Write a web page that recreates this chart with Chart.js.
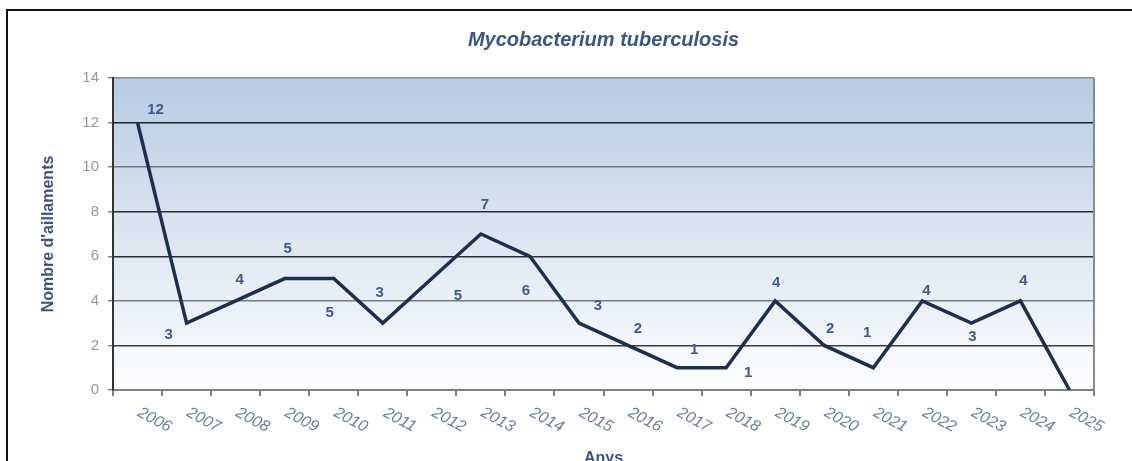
<!DOCTYPE html>
<html>
<head>
<meta charset="utf-8">
<script src="https://cdn.jsdelivr.net/npm/chart.js@4.4.1/dist/chart.umd.min.js"></script>
<style>
  html, body { margin: 0; padding: 0; background: #ffffff; }
  #wrap { position: relative; width: 1132px; height: 461px; }
</style>
</head>
<body>
<div id="wrap"><canvas id="c" width="1132" height="461"></canvas></div>
<script>
// ---- data ----
const years = ['2006','2007','2008','2009','2010','2011','2012','2013','2014','2015','2016','2017','2018','2019','2020','2021','2022','2023','2024','2025'];
const cases = [12, 3, 4, 5, 5, 3, 5, 7, 6, 3, 2, 1, 1, 4, 2, 1, 4, 3, 4, 0];
const pointLabels = ['12','3','4','5','5','3','5','7','6','3','2','1','1','4','2','1','4','3','4',''];
const yTicks = [0, 2, 4, 6, 8, 10, 12, 14];
const chartTitle = 'Mycobacterium tuberculosis';
const yTitle = "Nombre d'aillaments";
const xTitle = 'Anys';

// label placement offsets (pixels, relative to point)
const labelOffsets = [[18,-13],[-18,12],[4,-21],[3,-30],[-4,34],[-3,-30],[26,17],[4,-29],[-4,35],[19,-17],[10,-17],[17,-18],[22,5],[1,-18],[6,-17],[-6,-35],[4,-10],[1,14],[3,-20],[0,0]];
const gridColors = {0:'#808080',2:'#3c3c3c',4:'#7a7a7a',6:'#2e2e2e',8:'#2e2e2e',10:'#767676',12:'#1e2230',14:'#8c8c8c'};
const FONT = '"Liberation Sans", Arial, sans-serif';

const framePlugin = {
  id: 'frame',
  beforeDraw(chart) {
    const {ctx, chartArea: a} = chart;
    ctx.save();
    ctx.strokeStyle = '#111111';
    ctx.lineWidth = 2;
    ctx.beginPath();
    ctx.moveTo(7, 470); ctx.lineTo(7, 10); ctx.lineTo(1140, 10);
    ctx.stroke();
    const g = ctx.createLinearGradient(0, a.top, 0, a.bottom);
    g.addColorStop(0, '#b7cbe3');
    g.addColorStop(0.5, '#dbe5f1');
    g.addColorStop(1, '#fdfeff');
    ctx.fillStyle = g;
    ctx.fillRect(a.left, a.top, a.right - a.left, a.bottom - a.top);
    ctx.restore();
  },
  afterDraw(chart) {
    const {ctx, chartArea: a} = chart;
    ctx.save();
    ctx.strokeStyle = '#8a8a8a';
    ctx.lineWidth = 2;
    ctx.beginPath();
    ctx.moveTo(a.right, a.top); ctx.lineTo(a.right, a.bottom);
    ctx.stroke();
    // rotated x tick labels
    const xs = chart.scales.x;
    ctx.font = 'italic 16px ' + FONT;
    ctx.fillStyle = '#6a7ea2';
    ctx.textAlign = 'center';
    ctx.textBaseline = 'middle';
    xs.ticks.forEach((t, i) => {
      const px = xs.getPixelForTick(i) + 17;
      ctx.save();
      ctx.translate(px, a.bottom + 30);
      ctx.rotate(28 * Math.PI / 180);
      ctx.fillText(xs.getLabelForValue(t.value), 0, 0);
      ctx.restore();
    });
    // data labels
    const meta = chart.getDatasetMeta(0);
    ctx.font = 'bold 15px ' + FONT;
    ctx.fillStyle = '#3f5b8c';
    meta.data.forEach((pt, i) => {
      const txt = pointLabels[i];
      if (!txt) return;
      const o = labelOffsets[i];
      ctx.fillText(txt, pt.x + o[0], pt.y + o[1]);
    });
    ctx.restore();
  }
};

new Chart(document.getElementById('c'), {
  type: 'line',
  data: {
    labels: years,
    datasets: [{
      data: cases,
      borderColor: '#1d2f4f',
      borderWidth: 3.5,
      pointRadius: 0,
      tension: 0,
      fill: false
    }]
  },
  options: {
    responsive: false,
    animation: false,
    layout: { padding: { left: 0, right: 38, top: 0, bottom: 0 } },
    plugins: {
      legend: { display: false },
      tooltip: { enabled: false },
      title: {
        display: true,
        text: chartTitle,
        fullSize: false,
        color: '#3a5685',
        font: { family: FONT, size: 20, style: 'italic', weight: 'bold' },
        padding: { top: 28, bottom: 26 }
      }
    },
    scales: {
      x: {
        offset: true,
        grid: { offset: true, drawOnChartArea: false, drawTicks: true, tickLength: 6, color: '#7f7f7f', lineWidth: 2 },
        border: { display: true, color: '#7f7f7f', width: 2 },
        ticks: { display: false },
        title: {
          display: true, text: xTitle, color: '#3a5685',
          font: { family: FONT, size: 16, weight: 'bold' },
          padding: { top: 0, bottom: -7 }
        },
        afterFit(s) { s.height = 71; }
      },
      y: {
        min: 0, max: 14,
        afterBuildTicks(s) { s.ticks = yTicks.map(v => ({ value: v })); },
        grid: {
          color: ctx => gridColors[ctx.tick.value] || '#555',
          tickColor: '#808080',
          lineWidth: 1.5,
          tickLength: 5
        },
        border: { display: true, color: '#333333', width: 2 },
        ticks: {
          color: '#969696',
          padding: 9,
          font: { family: FONT, size: 15 }
        },
        title: {
          display: true, text: yTitle, color: '#3a5685',
          font: { family: FONT, size: 16, weight: 'bold' },
          padding: { top: 39.4, bottom: 0 }
        },
        afterFit(s) { s.width = 113; }
      }
    }
  },
  plugins: [framePlugin]
});
</script>
</body>
</html>
